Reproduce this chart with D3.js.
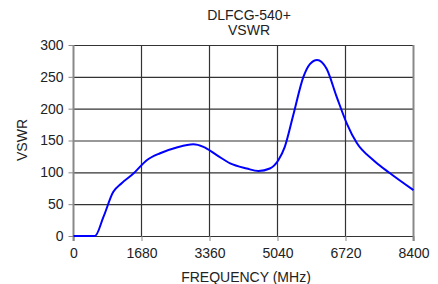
<!DOCTYPE html>
<html>
<head>
<meta charset="utf-8">
<script src="https://d3js.org/d3.v7.min.js"></script>
<style>
  body { margin: 0; background: #fff; }
  svg text { font-family: "Liberation Sans", Arial, sans-serif; fill: #222; }
</style>
</head>
<body>
<svg width="438" height="284"></svg>
<script>
// values
const freq = [0, 530, 740, 980, 1190, 1480, 1810, 2140, 2550, 2960, 3210, 3540, 3870, 4280, 4570, 4850, 5060, 5220, 5430, 5680, 5840, 6020, 6250, 6500, 6750, 7000, 7410, 7820, 8400];
const vswr = [0, 0, 30, 69, 83, 98, 119, 130, 139, 144, 140, 127, 114, 106, 102, 106, 119, 140, 190, 250, 270, 276.5, 263, 219, 177, 146, 119, 98.5, 72];
const xTicks = [0, 1680, 3360, 5040, 6720, 8400];
const yTicks = [0, 50, 100, 150, 200, 250, 300];
const titleLines = ["DLFCG-540+", "VSWR"];

const svg = d3.select("svg");
const plotL = 73.5, plotR = 413.5, plotT = 45, plotB = 236;
const fs = "14px";

const x = d3.scaleLinear().domain([0, 8400]).range([plotL, plotR]);
const y = d3.scaleLinear().domain([0, 300]).range([plotB, plotT]);

// grid
svg.selectAll("line.h").data(yTicks).join("line")
  .attr("x1", plotL).attr("x2", plotR)
  .attr("y1", d => y(d) + 0.5).attr("y2", d => y(d) + 0.5)
  .attr("stroke", "#333").attr("stroke-width", 1.2);
svg.selectAll("line.v").data(xTicks.slice(1, -1)).join("line")
  .attr("y1", plotT).attr("y2", plotB)
  .attr("x1", d => x(d)).attr("x2", d => x(d))
  .attr("stroke", "#333").attr("stroke-width", 1.2);

// frame sides (gray)
svg.append("line").attr("x1", plotL).attr("x2", plotL).attr("y1", plotT).attr("y2", plotB + 5)
  .attr("stroke", "#888").attr("stroke-width", 2);
svg.append("line").attr("x1", plotR).attr("x2", plotR).attr("y1", plotT).attr("y2", plotB + 5)
  .attr("stroke", "#888").attr("stroke-width", 2);

// axes
const yAxis = svg.append("g").attr("transform", `translate(${plotL},0)`)
  .call(d3.axisLeft(y).tickValues(yTicks).tickSize(5).tickPadding(5));
yAxis.select(".domain").remove();
yAxis.selectAll("line").attr("stroke", "#888");
yAxis.selectAll("text").style("font-size", fs)
  .style("font-family", "'Liberation Sans', Arial, sans-serif").attr("fill", "#222");

const xAxis = svg.append("g").attr("transform", `translate(0,${plotB})`)
  .call(d3.axisBottom(x).tickValues(xTicks).tickFormat(d3.format("d")).tickSize(5).tickPadding(7));
xAxis.select(".domain").remove();
xAxis.selectAll("line").attr("stroke", "#888");
xAxis.selectAll("text").style("font-size", fs)
  .style("font-family", "'Liberation Sans', Arial, sans-serif").attr("fill", "#222");

// curve
const line = d3.line().x(d => x(d[0])).y(d => y(d[1])).curve(d3.curveMonotoneX);
svg.append("path").datum(d3.zip(freq, vswr))
  .attr("d", line).attr("fill", "none").attr("stroke", "#0000ff").attr("stroke-width", 2);

// titles and labels
svg.selectAll("text.title").data(titleLines).join("text")
  .attr("class", "title")
  .attr("x", 249).attr("y", (d, i) => 20 + i * 15)
  .attr("text-anchor", "middle").style("font-size", fs).text(d => d);

svg.append("text").attr("x", 246).attr("y", 282).attr("text-anchor", "middle")
  .style("font-size", fs).text("FREQUENCY (MHz)");

svg.append("text").attr("transform", "translate(27,140) rotate(-90)")
  .attr("text-anchor", "middle").style("font-size", fs).text("VSWR");
</script>
</body>
</html>
